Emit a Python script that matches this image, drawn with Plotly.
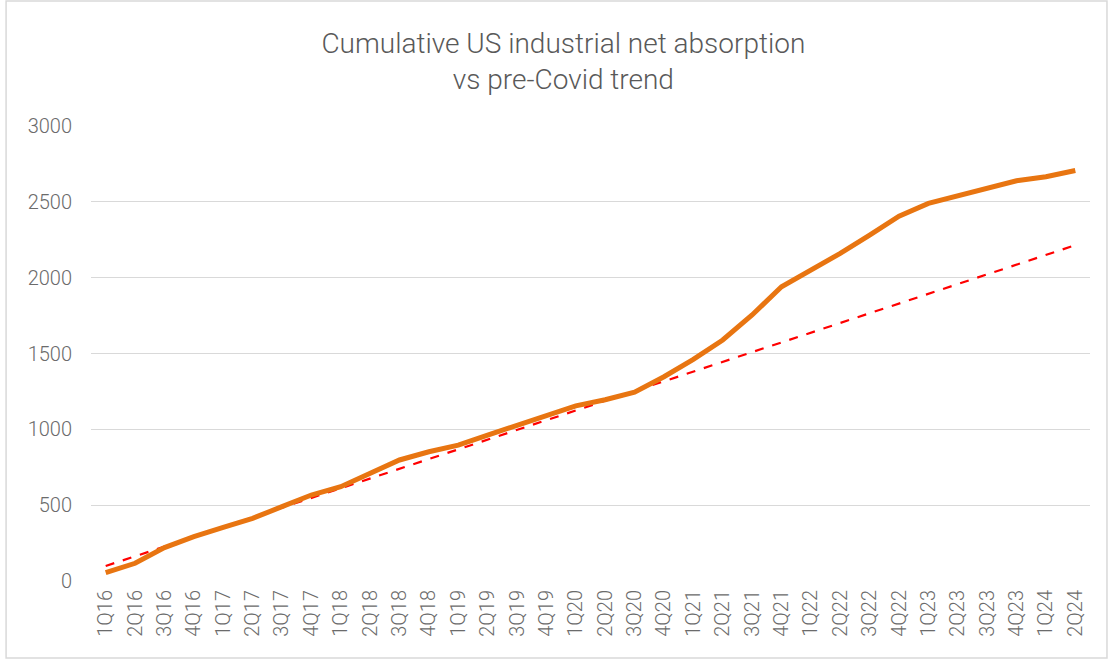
# Cumulative US industrial net absorption vs pre-Covid trend
import plotly.graph_objects as go

# -------------------
# Data
# -------------------
quarters = [
    "1Q16", "2Q16", "3Q16", "4Q16", "1Q17", "2Q17", "3Q17", "4Q17",
    "1Q18", "2Q18", "3Q18", "4Q18", "1Q19", "2Q19", "3Q19", "4Q19",
    "1Q20", "2Q20", "3Q20", "4Q20", "1Q21", "2Q21", "3Q21", "4Q21",
    "1Q22", "2Q22", "3Q22", "4Q22", "1Q23", "2Q23", "3Q23", "4Q23",
    "1Q24", "2Q24",
]

absorption = [
    55, 117, 220, 292, 354, 413, 490, 567,
    622, 710, 798, 852, 896, 962, 1028, 1094,
    1155, 1195, 1245, 1347, 1461, 1589, 1754, 1940,
    2048, 2160, 2281, 2406, 2490, 2538, 2586, 2639,
    2665, 2707,
]

pre_covid_trend = [
    99, 163, 227, 291, 356, 420, 484, 548,
    612, 676, 740, 804, 868, 932, 996, 1060,
    1125, 1189, 1253, 1317, 1381, 1445, 1509, 1573,
    1637, 1701, 1765, 1829, 1894, 1958, 2022, 2086,
    2150, 2214,
]

y_ticks = [0, 500, 1000, 1500, 2000, 2500, 3000]

# -------------------
# Build chart
# -------------------
fig = go.Figure()

fig.add_trace(go.Scatter(
    x=quarters, y=pre_covid_trend, mode="lines",
    line=dict(color="#FF0000", width=2.2, dash="dash"),
    name="Pre-Covid trend",
))

fig.add_trace(go.Scatter(
    x=quarters, y=absorption, mode="lines",
    line=dict(color="#E87511", width=5),
    name="Cumulative net absorption",
))

tick_font = dict(family="Roboto", size=20, color="#6b6b6b", weight=300)

fig.update_layout(
    width=1109, height=659,
    plot_bgcolor="white", paper_bgcolor="white",
    margin=dict(l=91, r=19, t=126, b=78),
    showlegend=False,
    title=dict(
        text="Cumulative US industrial net absorption<br>vs pre-Covid trend",
        x=0.508, xref="container", xanchor="center",
        y=0.92, yref="container", yanchor="middle",
        font=dict(family="Roboto", size=28, color="#595959", weight=300),
    ),
    # thin frame around the whole chart
    shapes=[dict(
        type="rect", xref="paper", yref="paper",
        x0=-0.085, x1=1.017, y0=-0.169, y1=1.275,
        line=dict(color="#D9D9D9", width=1.5),
    )],
)

fig.update_xaxes(
    type="category", range=[-0.5, len(quarters) - 0.5],
    tickangle=-90, tickfont=tick_font, ticklabelstandoff=4,
    showgrid=False, showline=False, ticks="",
)

fig.update_yaxes(
    range=[0, 3000], tickvals=y_ticks,
    tickfont=tick_font, ticks="", ticklabelstandoff=18,
    showgrid=True, gridcolor="#D9D9D9", gridwidth=1.3,
    zeroline=False, showline=False,
)

# drop the page's default body margin so the chart sits at the window origin
fig.write_html(
    "out.html",
    config={"displayModeBar": False},
    post_script="document.body.style.margin='0';",
)
